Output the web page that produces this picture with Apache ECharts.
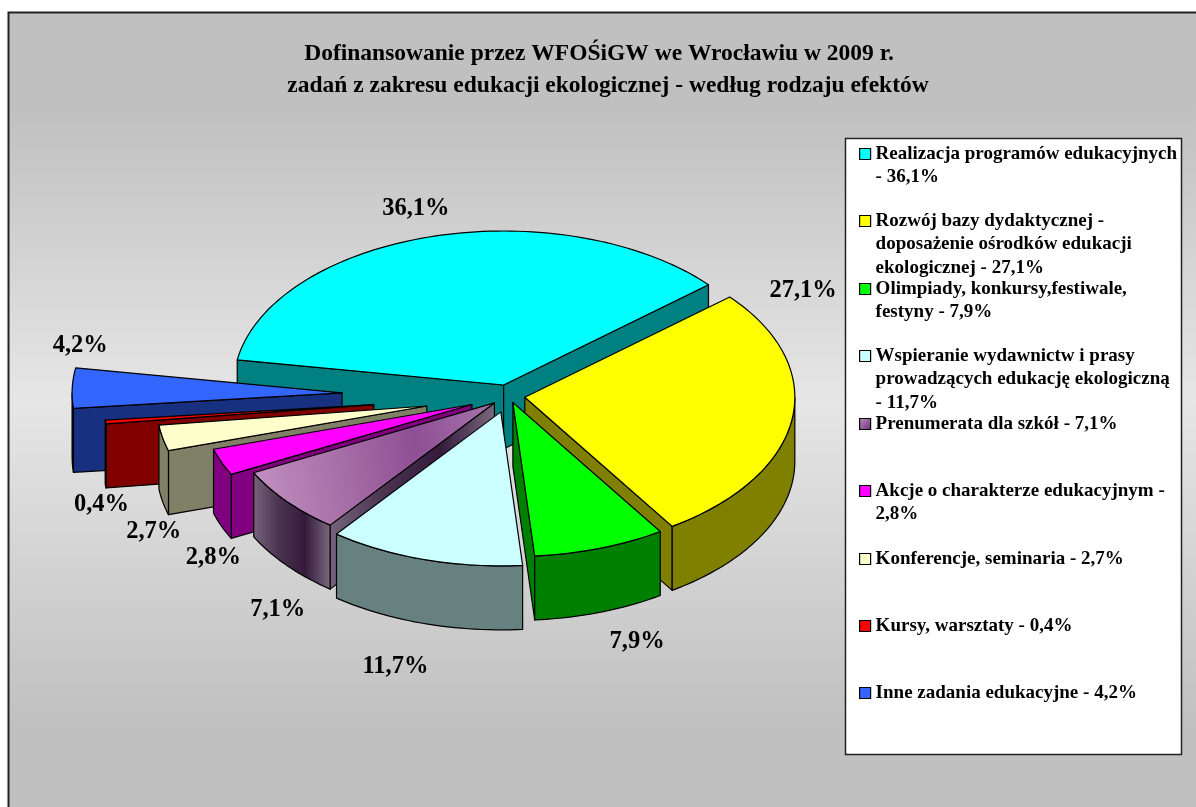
<!DOCTYPE html>
<html>
<head>
<meta charset="utf-8">
<style>html,body{margin:0;padding:0;background:#fff}#c{width:1196px;height:807px}</style>
<script src="https://cdn.jsdelivr.net/npm/echarts@6/dist/echarts.min.js"></script>
</head>
<body>
<div id="c"></div>
<script>
const titleLines = ['Dofinansowanie przez WFOŚiGW we Wrocławiu w 2009 r.',
  'zadań z zakresu edukacji ekologicznej - według rodzaju efektów'];
const categories = ['Realizacja programów edukacyjnych','Rozwój bazy dydaktycznej - doposażenie ośrodków edukacji ekologicznej',
  'Olimpiady, konkursy,festiwale, festyny','Wspieranie wydawnictw i prasy prowadzących edukację ekologiczną',
  'Prenumerata dla szkół','Akcje o charakterze edukacyjnym','Konferencje, seminaria','Kursy, warsztaty','Inne zadania edukacyjne'];
const values = [36.1,27.1,7.9,11.7,7.1,2.8,2.7,0.4,4.2];
const legendLines = [
  ['Realizacja programów edukacyjnych','- 36,1%'],
  ['Rozwój bazy dydaktycznej -','doposażenie ośrodków edukacji','ekologicznej - 27,1%'],
  ['Olimpiady, konkursy,festiwale,','festyny - 7,9%'],
  ['Wspieranie wydawnictw i prasy','prowadzących edukację ekologiczną','- 11,7%'],
  ['Prenumerata dla szkół - 7,1%'],
  ['Akcje o charakterze edukacyjnym -','2,8%'],
  ['Konferencje, seminaria - 2,7%'],
  ['Kursy, warsztaty - 0,4%'],
  ['Inne zadania edukacyjne - 4,2%']];

// styling / layout
const F = 'Liberation Serif';
const G = (x0,y0,x1,y1,stops)=>new echarts.graphic.LinearGradient(x0,y0,x1,y1,stops.map((c,i)=>({offset:i/(stops.length-1),color:c})));
const topColors = ['#00ffff','#ffff00','#00ff00','#ccffff',
  G(0,0.5,1,0.2,['#c08fc0','#a870a8','#8e4f94','#a673ac']),'#ff00ff','#ffffcc','#ff0000','#3366ff'];
const sideColors = ['#008080','#808000','#008000','#678080',
  G(0,0,1,0,['#75647c','#4b3350','#351a3c','#7a6a80']),'#800080','#808066','#800000','#173080'];
const drawOrder = [0,2,8,7,6,5,4,3,1]; // slice index -> painter z (back to front)
const CX=509, CY=396, RX=270, RY=154, DEPTH=64;
const explode = [20,16,12,29,19,40,84,136,167];
const labelOffset = [[-15,-28],[11,-128],[37,93],[-29,107],[-9,108],[-8,96],[-9,94],[-4,83],[8,-42]];
const legendY = [154,221,289,356,424,491,559,626,693];
const START=-80.6, LH=23.5;

const total = values.reduce((a,b)=>a+b,0);
let acc = START;
const spans = values.map(v=>{const s=acc; acc+=v/total*360; return [s,acc];});
const rad = d=>d*Math.PI/180;
const pct = v=>v.toFixed(1).replace('.',',')+'%';

function renderSlice(i){
  return function(params, api){
    const v = api.value(0);
    const s = spans[i][0], e = s + v/total*360, m=(s+e)/2;
    const ax = CX + explode[i]*Math.sin(rad(m)), ay = CY - explode[i]*Math.cos(rad(m))*RY/RX;
    const pt = a=>[ax+RX*Math.sin(rad(a)), ay-RY*Math.cos(rad(a))];
    const down = p=>[p[0],p[1]+DEPTH];
    const style = fill=>({fill,stroke:'#000',lineWidth:1.2,lineJoin:'round'});
    const kids = [];
    const arc=(a,b)=>{const n=Math.max(2,Math.ceil(Math.abs(b-a)/1.5));const r=[];for(let k=0;k<=n;k++)r.push(pt(a+(b-a)*k/n));return r;};
    const poly=(points,fill)=>kids.push({type:'polygon',shape:{points},style:style(fill)});
    // radial faces seen from the viewer
    if(Math.sin(rad(s))<0){const p=pt(s);poly([[ax,ay],p,down(p),[ax,ay+DEPTH]],sideColors[i]);}
    if(Math.sin(rad(e))>0){const p=pt(e);poly([[ax,ay],p,down(p),[ax,ay+DEPTH]],sideColors[i]);}
    // outer wall: lower half of the ellipse only (param angle 90..270)
    const norm=a=>((a%360)+360)%360;
    let a0=norm(s), a1=a0+(e-s);
    const ws=Math.max(a0,90), we=Math.min(a1,270);
    if(we>ws){const top=arc(ws,we);poly(top.concat(top.slice().reverse().map(down)),sideColors[i]);}
    // top face
    poly([[ax,ay]].concat(arc(s,e)),topColors[i]);
    const o=pt(m);
    kids.push({type:'text',style:{text:pct(v),x:o[0]+labelOffset[i][0],y:o[1]+labelOffset[i][1],
      align:'center',verticalAlign:'middle',font:'bold 24.5px "'+F+'"',fill:'#000'},z2:50});
    return {type:'group',children:kids};
  };
}

const series = categories.map((name,i)=>({
  type:'custom',name,coordinateSystem:'none',z:10+drawOrder[i],silent:true,
  data:[[values[i]]],renderItem:renderSlice(i),animation:false,clip:false,
  itemStyle:{color:topColors[i]}
}));

const legends = categories.map((name,i)=>{
  const n=legendLines[i].length;
  return {
    data:[{name,icon:'rect',itemStyle:{color:i===4?G(0,0,1,1,['#c08fc0','#6d2f75']):topColors[i],borderColor:'#000',borderWidth:1.2}}],
    left:859, top:legendY[i]-(2*n-1)*LH/2, padding:0, itemWidth:11, itemHeight:11, selectedMode:false, orient:'vertical',z:6,
    formatter:()=>'\n'.repeat(n-1)+legendLines[i].join('\n'),
    textStyle:{fontFamily:F,fontWeight:'bold',fontSize:19,color:'#000',lineHeight:LH}
  };
});

const chart = echarts.init(document.getElementById('c'),null,{renderer:'canvas'});
chart.setOption({
  animation:false,
  title:[
    {text:titleLines[0],left:594,top:37,textAlign:'center',textStyle:{fontFamily:F,fontWeight:'bold',fontSize:23.5,color:'#000'}},
    {text:titleLines[1],left:603,top:69,textAlign:'center',textStyle:{fontFamily:F,fontWeight:'bold',fontSize:23.5,color:'#000'}}
  ],
  legend:legends,
  series,
  graphic:[
    {type:'rect',z:0,silent:true,shape:{x:8.5,y:12.5,width:1200,height:810},
     style:{fill:new echarts.graphic.LinearGradient(0,0,0,1,[
       {offset:0,color:'#c0c0c0'},{offset:0.12,color:'#c0c0c0'},{offset:0.48,color:'#e6e6e6'},{offset:0.88,color:'#c0c0c0'},{offset:1,color:'#c0c0c0'}]),
       stroke:'#222',lineWidth:2}},
    {type:'rect',z:1,silent:true,shape:{x:845.5,y:138.5,width:336,height:616},style:{fill:'#fff',stroke:'#222',lineWidth:1.5}}
  ]
});
</script>
</body>
</html>
